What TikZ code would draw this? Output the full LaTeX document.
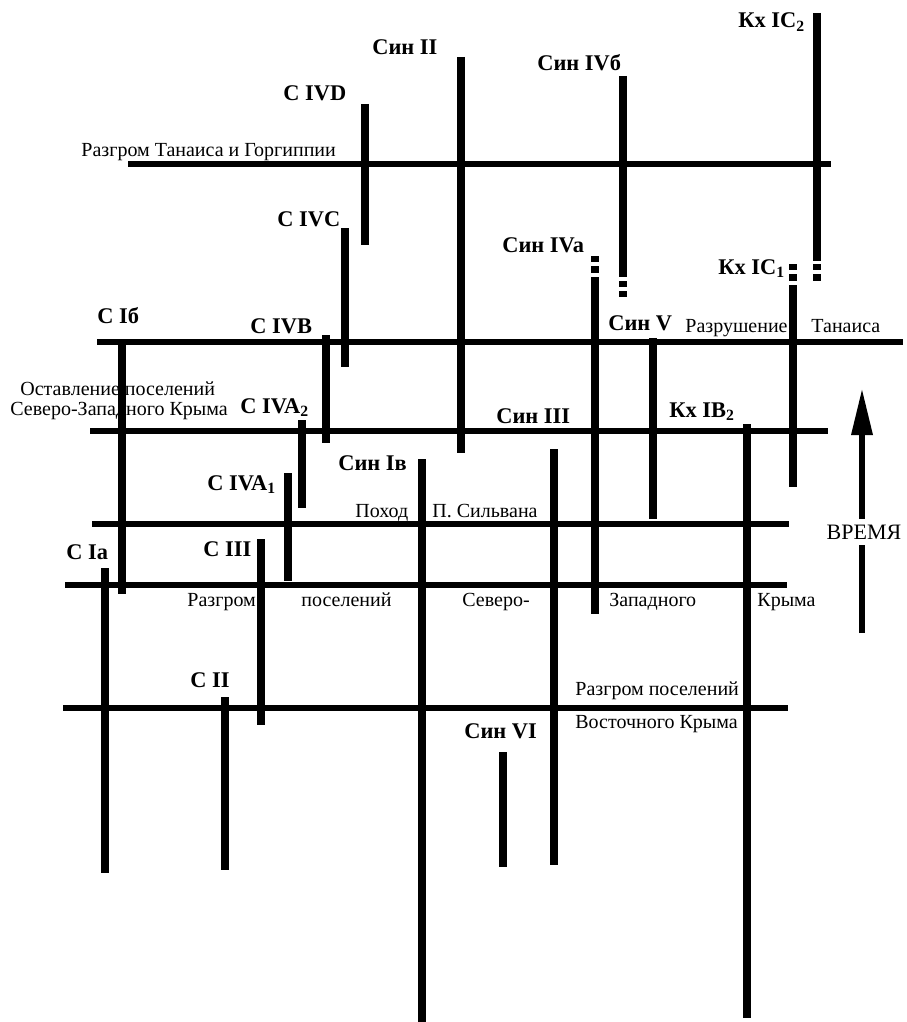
\documentclass[tikz,border=0pt]{standalone}
\usepackage{fontspec}
\setmainfont{Liberation Serif}
\usetikzlibrary{arrows.meta}

\begin{document}
\begin{tikzpicture}[x=0.5pt,y=-0.5pt,
                       event line/.style={line width=2.8pt},
                       phase bar/.style={line width=4.3pt},
                       phase tail/.style={line width=4.3pt,dash pattern=on 3.2pt off 2pt},
                       phase label/.style={font=\fontsize{11.2}{13}\selectfont\bfseries,
                                           inner sep=0pt,anchor=base west},
                       event label/.style={font=\fontsize{10}{12}\selectfont,
                                           inner sep=0pt,anchor=base west}
                      ]
   \useasboundingbox (0,0) rectangle (906,1022);

   % events
   \coordinate (gorg1) at (128,164);   \coordinate (gorg2) at (831,164);
   \coordinate (tan1) at (97,342);     \coordinate (tan2) at (903,342);
   \coordinate (nw1) at (90,431);      \coordinate (nw2) at (828,431);
   \coordinate (silv1) at (92,524);    \coordinate (silv2) at (789,524);
   \coordinate (nwc1) at (65,585);     \coordinate (nwc2) at (787,585);
   \coordinate (ec1) at (63,708);      \coordinate (ec2) at (788,708);
   \draw[event line] (gorg1) -- (gorg2);
   \draw[event line] (tan1) -- (tan2);
   \draw[event line] (nw1) -- (nw2);
   \draw[event line] (silv1) -- (silv2);
   \draw[event line] (nwc1) -- (nwc2);
   \draw[event line] (ec1) -- (ec2);

   \node[event label] (gorg) at (81,156) {Разгром Танаиса и Горгиппии};
   \node[event label] (tanA) at (685,332) {Разрушение};
   \node[event label] (tanB) at (811,332) {Танаиса};
   \node[event label] (nwA) at (20,395) {Оставление поселений};
   \node[event label] (nwB) at (10,415) {Северо-Западного Крыма};
   \node[event label] (silvA) at (355,517) {Поход};
   \node[event label] (silvB) at (432,517) {П. Сильвана};
   \node[event label] (nwcA) at (187,606) {Разгром};
   \node[event label] (nwcB) at (301,606) {поселений};
   \node[event label] (nwcC) at (462,606) {Северо-};
   \node[event label] (nwcD) at (609,606) {Западного};
   \node[event label] (nwcE) at (757,606) {Крыма};
   \node[event label] (ecA) at (575,695) {Разгром поселений};
   \node[event label] (ecB) at (575,728) {Восточного Крыма};

   % phases
   \coordinate (civd1) at (365,104);   \coordinate (civd2) at (365,245);
   \coordinate (sin21) at (461,57);    \coordinate (sin22) at (461,453);
   \coordinate (sin4b1) at (623,76);   \coordinate (sin4b2) at (623,277);
   \coordinate (sin4b3) at (623,281);  \coordinate (sin4b4) at (623,297);
   \coordinate (kx2c1) at (817,13);    \coordinate (kx2c2) at (817,261);
   \coordinate (kx2c3) at (817,264);   \coordinate (kx2c4) at (817,282);
   \coordinate (civc1) at (345,228);   \coordinate (civc2) at (345,367);
   \coordinate (sin4a1) at (595,256);  \coordinate (sin4a2) at (595,273);
   \coordinate (sin4a3) at (595,277);  \coordinate (sin4a4) at (595,614);
   \coordinate (kx1c1) at (793,264);   \coordinate (kx1c2) at (793,282);
   \coordinate (kx1c3) at (793,285);   \coordinate (kx1c4) at (793,487);
   \coordinate (cib1) at (122,342);    \coordinate (cib2) at (122,594);
   \coordinate (civb1) at (326,335);   \coordinate (civb2) at (326,443);
   \coordinate (sin51) at (653,338);   \coordinate (sin52) at (653,519);
   \coordinate (civa21) at (302,420);  \coordinate (civa22) at (302,508);
   \coordinate (kxb21) at (747,424);   \coordinate (kxb22) at (747,1018);
   \coordinate (sin31) at (554,449);   \coordinate (sin32) at (554,865);
   \coordinate (sin1v1) at (422,459);  \coordinate (sin1v2) at (422,1022);
   \coordinate (civa11) at (288,473);  \coordinate (civa12) at (288,581);
   \coordinate (c31) at (261,539);     \coordinate (c32) at (261,725);
   \coordinate (cia1) at (105,568);    \coordinate (cia2) at (105,873);
   \coordinate (c21) at (225,697);     \coordinate (c22) at (225,870);
   \coordinate (sin61) at (503,752);   \coordinate (sin62) at (503,867);
   \path%
    (civd1) edge [phase bar] (civd2)
    (sin21) edge [phase bar] (sin22)
    (sin4b1) edge [phase bar] (sin4b2)
    (sin4b3) edge [phase tail] (sin4b4)
    (kx2c1) edge [phase bar] (kx2c2)
    (kx2c3) edge [phase tail] (kx2c4)
    (civc1) edge [phase bar] (civc2)
    (sin4a1) edge [phase tail] (sin4a2)
    (sin4a3) edge [phase bar] (sin4a4)
    (kx1c1) edge [phase tail] (kx1c2)
    (kx1c3) edge [phase bar] (kx1c4)
    (cib1) edge [phase bar] (cib2)
    (civb1) edge [phase bar] (civb2)
    (sin51) edge [phase bar] (sin52)
    (civa21) edge [phase bar] (civa22)
    (kxb21) edge [phase bar] (kxb22)
    (sin31) edge [phase bar] (sin32)
    (sin1v1) edge [phase bar] (sin1v2)
    (civa11) edge [phase bar] (civa12)
    (c31) edge [phase bar] (c32)
    (cia1) edge [phase bar] (cia2)
    (c21) edge [phase bar] (c22)
    (sin61) edge [phase bar,line width=3.6pt] (sin62);

   \node[phase label] (civd) at (283,101) {C IVD};
   \node[phase label] (sin2) at (372,55) {Син II};
   \node[phase label] (sin4b) at (537,71) {Син IVб};
   \node[phase label] (kx2c) at (738,28) {Кх IC\textsubscript{2}};
   \node[phase label] (civc) at (277,226) {C IVC};
   \node[phase label] (sin4a) at (502,252) {Син IVa};
   \node[phase label] (kx1c) at (718,274) {Кх IC\textsubscript{1}};
   \node[phase label] (cib) at (97,323) {C Iб};
   \node[phase label] (civb) at (250,333) {C IVB};
   \node[phase label] (sin5) at (608,330) {Син V};
   \node[phase label] (civa2) at (240,413) {C IVA\textsubscript{2}};
   \node[phase label] (kxb2) at (669,417) {Кх IB\textsubscript{2}};
   \node[phase label] (sin3) at (496,423) {Син III};
   \node[phase label] (sin1v) at (338,470) {Син Iв};
   \node[phase label] (civa1) at (207,490) {C IVA\textsubscript{1}};
   \node[phase label] (c3) at (203,556) {C III};
   \node[phase label] (cia) at (66,559) {C Ia};
   \node[phase label] (c2) at (190,687) {C II};
   \node[phase label] (sin6) at (464,738) {Син VI};

   % time axis
   \coordinate (time1) at (862,633);
   \coordinate (time2) at (862,388);
   \draw[line width=3.2pt,-{Triangle[length=23.5pt,width=10pt]}] (time1) -- (time2);
   \node[fill=white,inner sep=0pt,minimum height=13pt,
         font=\fontsize{11}{13}\selectfont] (time) at (864,532) {ВРЕМЯ};
\end{tikzpicture}
\end{document}
